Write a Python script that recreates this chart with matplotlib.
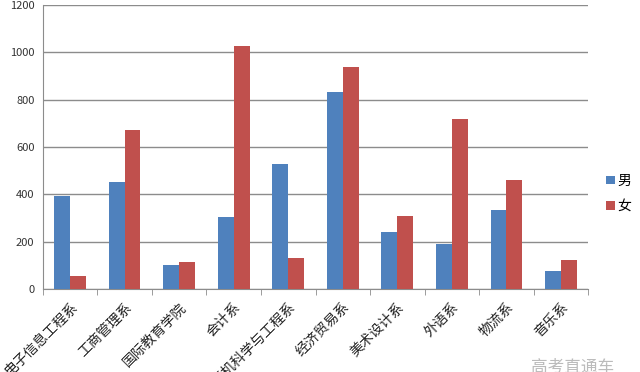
import matplotlib.pyplot as plt
import numpy as np

plt.rcParams['font.family'] = ['Noto Sans CJK SC', 'DejaVu Sans']

departments = ['电子信息工程系', '工商管理系', '国际教育学院', '会计系', '计算机科学与工程系',
               '经济贸易系', '美术设计系', '外语系', '物流系', '音乐系']
male = [393, 452, 101, 304, 528, 832, 241, 190, 334, 76]
female = [55, 672, 114, 1027, 131, 938, 308, 718, 460, 122]

fig = plt.figure(figsize=(6.4, 3.72), dpi=100)
ax = fig.add_axes([0.067, 0.223, 0.852, 0.764])

x = np.arange(len(departments))
w = 0.29
ax.bar(x - w / 2, male, w, color='#4F81BD', label='男', zorder=3)
ax.bar(x + w / 2, female, w, color='#C0504D', label='女', zorder=3)

ax.set_xlim(-0.5, len(departments) - 0.5)
ax.set_ylim(0, 1200)
ax.set_yticks(range(0, 1201, 200))
ax.yaxis.grid(True, color='#8c8c8c', linewidth=1, zorder=0)
ax.tick_params(axis='y', length=0, labelsize=8, colors='#333333', pad=6)

ax.set_xticks(x)
ax.set_xticklabels(departments, rotation=45, ha='right', va='top',
                   rotation_mode='anchor', fontsize=10, color='#222222')
ax.tick_params(axis='x', which='major', length=0, pad=8)
ax.set_xticks(np.arange(-0.5, len(departments)), minor=True)
ax.tick_params(axis='x', which='minor', length=4, color='#8c8c8c')

for s in ['top', 'right']:
    ax.spines[s].set_visible(False)
ax.spines['left'].set_color('#8c8c8c')
ax.spines['bottom'].set_color('#8c8c8c')

fig.legend(loc='center left', bbox_to_anchor=(0.928, 0.48), frameon=False,
           fontsize=10, handlelength=0.6, handleheight=0.6, handletextpad=0.2,
           labelspacing=0.8)

fig.text(0.83, -0.01, '高考直通车', fontsize=12, color='#bbbbbb', va='bottom')

fig.savefig('out.png', dpi=100)
